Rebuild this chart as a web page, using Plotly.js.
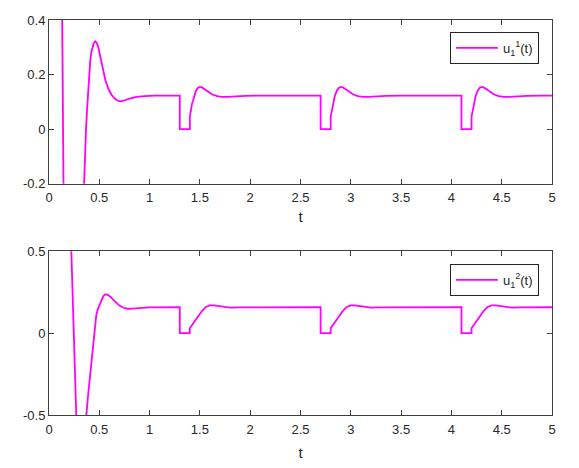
<!DOCTYPE html>
<html>
<head>
<meta charset="utf-8">
<script src="https://cdn.plot.ly/plotly-3.0.1.min.js"></script>
<style>html,body{margin:0;padding:0;background:#fff;}#plot{width:579px;height:468px;}</style>
</head>
<body>
<div id="plot"></div>
<script>
// Top panel: u_1^1(t)
const t1 = [0.00,0.10,0.13,0.145,0.20,0.26,0.31,0.344,0.355,0.368,0.378,0.39,0.40,0.41,0.42,0.43,0.445,0.46,0.475,0.49,0.51,0.53,0.56,0.59,0.62,0.65,0.68,0.71,0.75,0.80,0.87,0.95,1.05,
  1.30,1.30,1.40,1.40,1.42,1.44,1.46,1.48,1.50,1.52,1.55,1.58,1.62,1.67,1.72,1.78,1.85,1.95,2.10,
  2.70,2.70,2.80,2.80,2.82,2.84,2.86,2.88,2.90,2.92,2.95,2.98,3.02,3.07,3.12,3.18,3.25,3.35,3.50,
  4.10,4.10,4.20,4.20,4.22,4.24,4.26,4.28,4.30,4.32,4.35,4.38,4.42,4.47,4.52,4.58,4.65,4.75,4.90,5.00];
const u1 = [2.50,1.20,0.45,-0.25,-0.80,-0.90,-0.60,-0.20,-0.12,0.00,0.07,0.15,0.205,0.25,0.28,0.30,0.316,0.322,0.316,0.30,0.265,0.225,0.18,0.148,0.127,0.113,0.105,0.102,0.105,0.112,0.118,0.121,0.123,
  0.123,0.000,0.000,0.045,0.090,0.120,0.140,0.151,0.155,0.153,0.146,0.137,0.128,0.121,0.118,0.118,0.120,0.122,0.123,
  0.123,0.000,0.000,0.045,0.090,0.120,0.140,0.151,0.155,0.153,0.146,0.137,0.128,0.121,0.118,0.118,0.120,0.122,0.123,
  0.123,0.000,0.000,0.045,0.090,0.120,0.140,0.151,0.155,0.153,0.146,0.137,0.128,0.121,0.118,0.118,0.120,0.122,0.123,0.123];

// Bottom panel: u_1^2(t)
const t2 = [0.00,0.15,0.222,0.271,0.30,0.33,0.35,0.371,0.39,0.41,0.435,0.46,0.47,0.485,0.50,0.52,0.54,0.56,0.59,0.62,0.66,0.70,0.74,0.78,0.83,0.90,1.00,
  1.30,1.30,1.40,1.40,1.44,1.48,1.52,1.56,1.60,1.64,1.68,1.73,1.80,1.90,2.05,
  2.70,2.70,2.80,2.80,2.84,2.88,2.92,2.96,3.00,3.04,3.08,3.13,3.20,3.30,3.45,
  4.10,4.10,4.20,4.20,4.24,4.28,4.32,4.36,4.40,4.44,4.48,4.53,4.60,4.70,4.85,5.00];
const u2 = [3.00,1.60,0.50,-0.50,-0.85,-0.90,-0.75,-0.50,-0.37,-0.25,-0.08,0.070,0.11,0.145,0.170,0.200,0.226,0.238,0.232,0.215,0.19,0.168,0.155,0.149,0.150,0.154,0.157,
  0.158,0.000,0.000,0.030,0.065,0.100,0.135,0.160,0.170,0.169,0.165,0.160,0.156,0.157,0.158,
  0.158,0.000,0.000,0.030,0.065,0.100,0.135,0.160,0.170,0.169,0.165,0.160,0.156,0.157,0.158,
  0.158,0.000,0.000,0.030,0.065,0.100,0.135,0.160,0.170,0.169,0.165,0.160,0.156,0.157,0.158,0.158];

const xTicks = [0,0.5,1,1.5,2,2.5,3,3.5,4,4.5,5];
const xTickText = ['0','0.5','1','1.5','2','2.5','3','3.5','4','4.5','5'];
const y1Ticks = [-0.2,0,0.2,0.4];
const y1TickText = ['-0.2','0','0.2','0.4'];
const y2Ticks = [-0.5,0,0.5];
const y2TickText = ['-0.5','0','0.5'];

const FONT = 'Liberation Sans, Arial, Helvetica, sans-serif';
const AX = '#404040';
const lineColor = '#FF00FF';

const traces = [
  {x:t1, y:u1, type:'scatter', mode:'lines', name:'u<sub>1</sub><sup>1</sup>(t)',
   line:{color:lineColor, width:1.8}, xaxis:'x', yaxis:'y', legend:'legend', cliponaxis:true},
  {x:t2, y:u2, type:'scatter', mode:'lines', name:'u<sub>1</sub><sup>2</sup>(t)',
   line:{color:lineColor, width:1.8}, xaxis:'x2', yaxis:'y2', legend:'legend2', cliponaxis:true}
];

function xax(anchor, standoff){
  return {anchor:anchor, domain:[0,1], range:[0,5], tickvals:xTicks, ticktext:xTickText,
    ticks:'inside', ticklen:5, tickcolor:AX, showline:true, linecolor:AX, linewidth:1, mirror:'ticks',
    showgrid:false, zeroline:false, ticklabelstandoff:2, tickfont:{family:FONT, size:13, color:'#262626'},
    title:{text:'t', font:{family:FONT, size:15, color:'#262626'}, standoff:standoff}};
}
function yax(anchor, dom, rng, tv, tt){
  return {anchor:anchor, domain:dom, range:rng, tickvals:tv, ticktext:tt,
    ticks:'inside', ticklen:5, tickcolor:AX, showline:true, linecolor:AX, linewidth:1, mirror:'ticks',
    showgrid:false, zeroline:false, tickfont:{family:FONT, size:13, color:'#262626'}};
}

const legendBase = {xanchor:'right', yanchor:'top', bgcolor:'#fff', bordercolor:'#262626', borderwidth:1,
  font:{family:FONT, size:13, color:'#262626'}, itemwidth:42, tracegroupgap:0};

const layout = {
  width:579, height:468,
  margin:{l:49, r:27, t:20, b:53},
  paper_bgcolor:'#fff', plot_bgcolor:'#fff',
  showlegend:true,
  xaxis: xax('y', 7),
  yaxis: yax('x', [0.5855,1], [-0.2,0.4], y1Ticks, y1TickText),
  xaxis2: xax('y2', 11),
  yaxis2: yax('x2', [0,0.4145], [-0.5,0.5], y2Ticks, y2TickText),
  legend: Object.assign({x:0.974, y:0.970}, legendBase),
  legend2: Object.assign({x:0.974, y:0.3825}, legendBase)
};

Plotly.newPlot('plot', traces, layout, {staticPlot:true, displayModeBar:false});
</script>
</body>
</html>
